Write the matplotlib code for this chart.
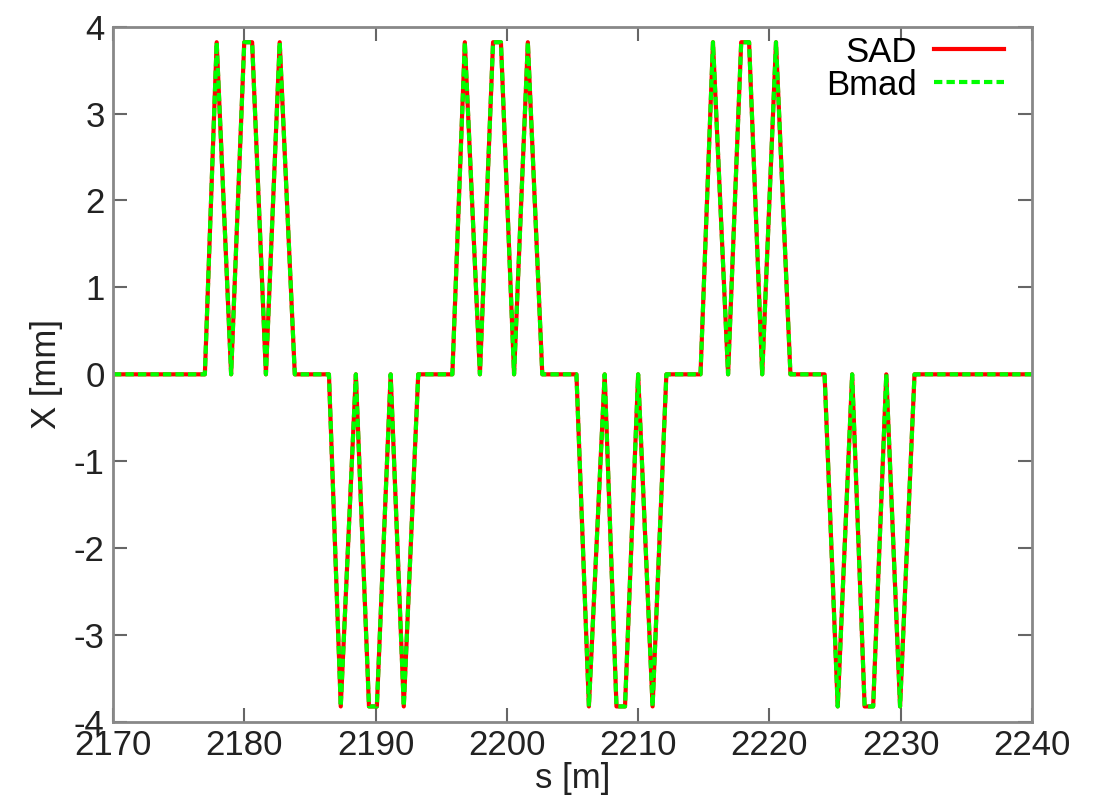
import numpy as np
import matplotlib
matplotlib.use('Agg')
import matplotlib.pyplot as plt

plt.rcParams['font.family'] = ['Liberation Sans', 'DejaVu Sans']
plt.rcParams['axes.unicode_minus'] = False

# orbit: s [m] and X [mm]
s = [2170.0, 2177.0, 2177.9, 2179.0, 2180.0, 2180.6, 2181.65, 2182.7, 2183.85,
     2186.45, 2187.35, 2188.5, 2189.5, 2190.1, 2191.15, 2192.15, 2193.25,
     2195.85, 2196.8, 2197.95, 2198.95, 2199.55, 2200.55, 2201.6, 2202.7,
     2205.3, 2206.25, 2207.45, 2208.35, 2209.0, 2210.0, 2211.1, 2212.15,
     2214.75, 2215.7, 2216.85, 2217.85, 2218.45, 2219.45, 2220.5, 2221.6,
     2224.2, 2225.2, 2226.3, 2227.25, 2227.9, 2228.9, 2229.95, 2231.05,
     2240.0]
x_sad = [0, 0, 3.82, 0, 3.82, 3.82, 0, 3.82, 0,
         0, -3.82, 0, -3.82, -3.82, 0, -3.82, 0,
         0, 3.82, 0, 3.82, 3.82, 0, 3.82, 0,
         0, -3.82, 0, -3.82, -3.82, 0, -3.82, 0,
         0, 3.82, 0, 3.82, 3.82, 0, 3.82, 0,
         0, -3.82, 0, -3.82, -3.82, 0, -3.82, 0,
         0]
x_bmad = list(x_sad)

fig = plt.figure(figsize=(11.02, 8.05), dpi=100)
ax = fig.add_axes([0.1025, 0.103, 0.834, 0.864])

ax.plot(s, x_sad, color='#ff0000', lw=3, label='SAD')
ax.plot(s, x_bmad, color='#00ff00', lw=3, ls=(0, (2.0, 1.0)), label='Bmad')

ax.set_xlim(2170, 2240)
ax.set_ylim(-4, 4)
ax.set_xticks(np.arange(2170, 2241, 10))
ax.set_yticks(np.arange(-4, 5, 1))

for sp in ax.spines.values():
    sp.set_color('#888888')
    sp.set_linewidth(2)
ax.tick_params(direction='in', length=10, width=1.5, color='#666666',
               top=True, right=True, labelsize=25, labelcolor='#222222', pad=6)
ax.tick_params(axis='x', pad=5)

ax.set_xlabel('s [m]', fontsize=25, color='#222222', labelpad=0)
ax.set_ylabel('X [mm]', fontsize=25, color='#222222', labelpad=8)

ax.legend(loc='upper right', bbox_to_anchor=(0.988, 1.012), frameon=False,
          markerfirst=False, fontsize=25, handlelength=2.0,
          borderaxespad=0.0, labelspacing=0.0, handletextpad=0.5,
          borderpad=0.5)

fig.savefig('out.png', dpi=100)
